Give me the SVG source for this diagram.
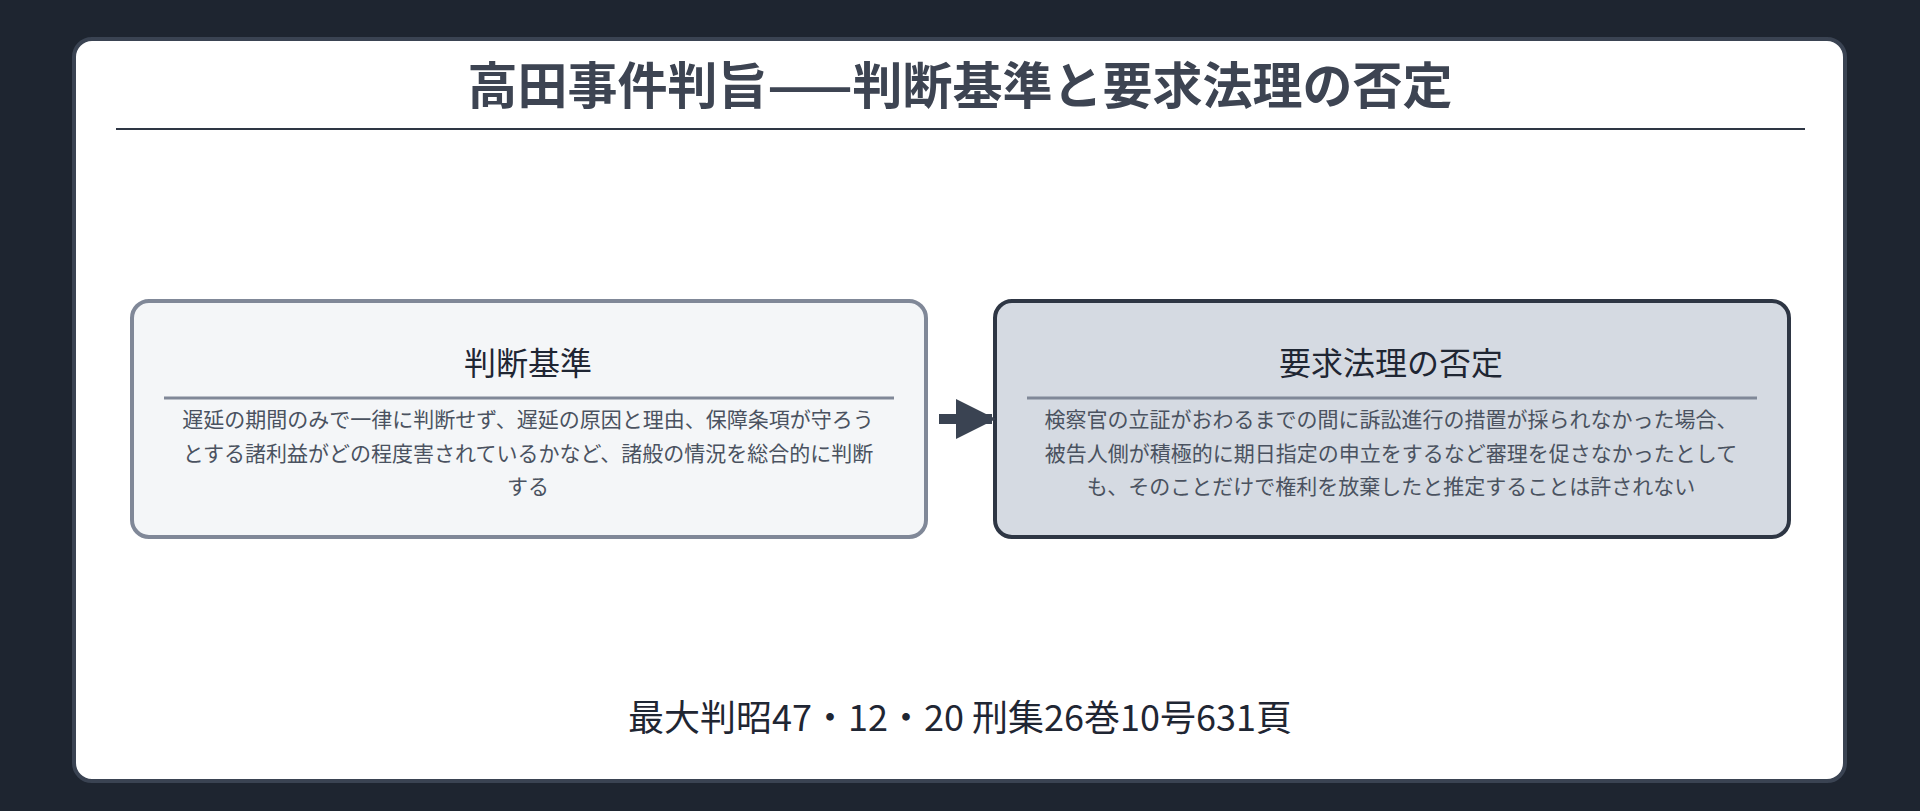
<svg xmlns="http://www.w3.org/2000/svg" width="1920" height="811" viewBox="0 0 1920 811">
<defs>
<style>
text{font-family:"Noto Sans CJK JP","Noto Sans",sans-serif;text-anchor:middle}
.ttl{font-size:32px;fill:#1f2633}
.body{font-size:21px;fill:#4a5260}
.rule{stroke:#808898;stroke-width:3}
</style>
<marker id="ah" viewBox="0 0 10 10" refX="9" refY="5" markerWidth="4" markerHeight="4" orient="auto" markerUnits="strokeWidth"><path d="M0,0 L10,5 L0,10 z" fill="#3a4352"/></marker>
</defs>
<rect width="1920" height="811" fill="#1e2530"/>
<rect x="74" y="39" width="1771" height="742" rx="18" fill="#ffffff" stroke="#3a4352" stroke-width="4"/>
<g id="title">
<text x="960" y="104" style="font-size:50px;font-weight:bold;fill:#3d4452">高田事件判旨——判断基準と要求法理の否定</text>
<line x1="116" y1="129" x2="1805" y2="129" stroke="#2e3644" stroke-width="2"/>
</g>
<g id="node-criteria">
<rect x="132" y="301" width="794" height="236" rx="17" fill="#f4f6f8" stroke="#808898" stroke-width="4"/>
<text class="ttl" x="528" y="375">判断基準</text>
<line class="rule" x1="164" y1="398" x2="894" y2="398"/>
<text class="body" x="528" y="427">遅延の期間のみで一律に判断せず、遅延の原因と理由、保障条項が守ろう</text>
<text class="body" x="528" y="461">とする諸利益がどの程度害されているかなど、諸般の情況を総合的に判断</text>
<text class="body" x="528" y="494">する</text>
</g>
<g id="node-denial">
<rect x="995" y="301" width="794" height="236" rx="17" fill="#d5dae2" stroke="#2e3644" stroke-width="4"/>
<text class="ttl" x="1391" y="375">要求法理の否定</text>
<line class="rule" x1="1027" y1="398" x2="1757" y2="398"/>
<text class="body" x="1391" y="427">検察官の立証がおわるまでの間に訴訟進行の措置が採られなかった場合、</text>
<text class="body" x="1391" y="461">被告人側が積極的に期日指定の申立をするなど審理を促さなかったとして</text>
<text class="body" x="1391" y="494">も、そのことだけで権利を放棄したと推定することは許されない</text>
</g>
<g id="connectors">
<line x1="939" y1="419" x2="992" y2="419" stroke="#3a4352" stroke-width="10" marker-end="url(#ah)"/>
</g>
<g id="footer">
<text x="960" y="731" style="font-size:36px;fill:#1f2633">最大判昭47・12・20 刑集26巻10号631頁</text>
</g>
</svg>
